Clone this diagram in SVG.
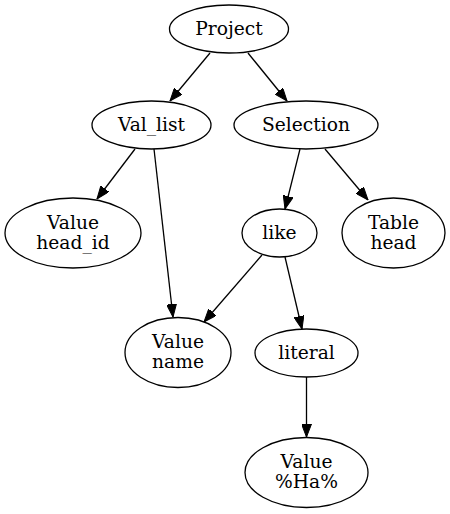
<svg xmlns="http://www.w3.org/2000/svg" width="450" height="514" viewBox="0 0 450 514">
<style>
  .n ellipse { fill: none; stroke: #000; stroke-width: 1.3; }
  .n text { font-family: "DejaVu Serif", serif; font-size: 18.67px; text-anchor: middle; fill: #000; }
  .e line { stroke: #000; stroke-width: 1.3; marker-end: url(#ah); }
</style>
<defs>
  <marker id="ah" markerUnits="userSpaceOnUse" markerWidth="13" markerHeight="10" refX="13" refY="5" orient="auto" viewBox="0 0 13 10">
    <path d="M0,0 L13,5 L0,10 z" fill="#000" stroke="#000" stroke-width="1"/>
  </marker>
</defs>
<rect width="450" height="514" fill="#fff"/>
<g id="edges" class="e">
  <line x1="210" y1="53" x2="170" y2="101"/>
  <line x1="248" y1="53" x2="287" y2="101"/>
  <line x1="135" y1="149" x2="97" y2="199"/>
  <line x1="154" y1="149" x2="173" y2="317"/>
  <line x1="300" y1="149" x2="285" y2="209"/>
  <line x1="325" y1="149" x2="368" y2="200"/>
  <line x1="262" y1="255" x2="204" y2="322"/>
  <line x1="285" y1="257" x2="302" y2="329"/>
  <line x1="306.5" y1="377" x2="306.5" y2="437"/>
</g>
<g id="project" class="n"><ellipse cx="229" cy="29" rx="59.5" ry="24"/><text x="229" y="35">Project</text></g>
<g id="val_list" class="n"><ellipse cx="151.5" cy="125" rx="59.5" ry="24"/><text x="151.5" y="131">Val_list</text></g>
<g id="selection" class="n"><ellipse cx="306" cy="125" rx="72" ry="24"/><text x="306" y="131">Selection</text></g>
<g id="value_head_id" class="n"><ellipse cx="73" cy="233" rx="68" ry="35"/><text x="73" y="228.5">Value</text><text x="73" y="248.5">head_id</text></g>
<g id="like" class="n"><ellipse cx="279.5" cy="233" rx="37.5" ry="24"/><text x="279.5" y="239">like</text></g>
<g id="table_head" class="n"><ellipse cx="393.5" cy="233" rx="51.5" ry="35"/><text x="393.5" y="228.5">Table</text><text x="393.5" y="248.5">head</text></g>
<g id="value_name" class="n"><ellipse cx="178" cy="352.5" rx="53" ry="35"/><text x="178" y="348">Value</text><text x="178" y="368">name</text></g>
<g id="literal" class="n"><ellipse cx="306.5" cy="353" rx="51.5" ry="24"/><text x="306.5" y="359">literal</text></g>
<g id="value_ha" class="n"><ellipse cx="306.5" cy="472.5" rx="61.5" ry="35"/><text x="306.5" y="468">Value</text><text x="306.5" y="488">%Ha%</text></g>
</svg>
